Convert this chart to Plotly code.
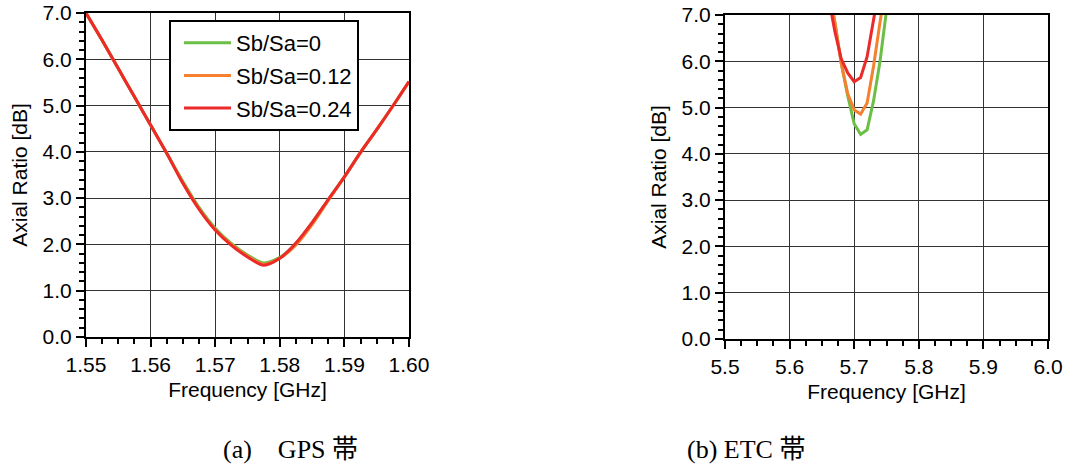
import plotly.graph_objects as go

# ---------------- data ----------------
series_names = ["Sb/Sa=0", "Sb/Sa=0.12", "Sb/Sa=0.24"]
series_colors = ["#6CBF45", "#F5812F", "#EC2A2A"]

gps_freq = [1.5500, 1.5525, 1.5550, 1.5575, 1.5600, 1.5625, 1.5650, 1.5675, 1.5700,
            1.5725, 1.5750, 1.5775, 1.5800, 1.5825, 1.5850, 1.5875, 1.5900, 1.5925,
            1.5950, 1.5975, 1.6000]
ar_gps_0 = [7.00, 6.41, 5.80, 5.19, 4.58, 3.97, 3.36, 2.80, 2.35,
            2.02, 1.77, 1.60, 1.72, 2.02, 2.47, 2.97, 3.46, 3.99,
            4.48, 4.99, 5.52]
ar_gps_012 = [7.00, 6.41, 5.80, 5.19, 4.58, 3.97, 3.33, 2.77, 2.32,
              2.00, 1.75, 1.57, 1.70, 1.99, 2.43, 2.95, 3.46, 3.99,
              4.48, 4.99, 5.52]
ar_gps_024 = [7.00, 6.41, 5.80, 5.19, 4.58, 3.97, 3.32, 2.76, 2.31,
              1.98, 1.73, 1.55, 1.70, 2.03, 2.47, 2.97, 3.46, 3.99,
              4.48, 4.99, 5.52]

etc_freq = [5.66, 5.67, 5.68, 5.69, 5.70, 5.71, 5.72, 5.73, 5.74, 5.75]
ar_etc_0 = [7.60, 6.85, 5.95, 5.25, 4.65, 4.42, 4.52, 5.15, 6.00, 7.10]
ar_etc_012 = [7.60, 6.85, 5.95, 5.30, 4.95, 4.86, 5.10, 5.90, 6.85, 7.70]
ar_etc_024 = [7.40, 6.65, 6.05, 5.75, 5.56, 5.65, 6.10, 6.85, 7.70, 8.50]

y_ticks = [0, 1, 2, 3, 4, 5, 6, 7]
gps_ticks = [1.55, 1.56, 1.57, 1.58, 1.59, 1.60]
etc_ticks = [5.5, 5.6, 5.7, 5.8, 5.9, 6.0]

x_title = "Frequency [GHz]"
y_title = "Axial Ratio [dB]"
captions = ["(a)\u00a0\u00a0\u00a0\u00a0GPS 帯", "(b) ETC 帯"]

# ---------------- figure ----------------
W, H = 1069, 465
FONT = "Liberation Sans, Arial, sans-serif"

fig = go.Figure()

gps_series = [ar_gps_0, ar_gps_012, ar_gps_024]
etc_series = [ar_etc_0, ar_etc_012, ar_etc_024]

for i, (name, col) in enumerate(zip(series_names, series_colors)):
    fig.add_trace(go.Scatter(
        x=gps_freq, y=gps_series[i], mode="lines", name=name,
        line=dict(color=col, width=3, shape="spline", smoothing=0.8),
        xaxis="x", yaxis="y", legendgroup=f"g{i}", showlegend=True))
for i, (name, col) in enumerate(zip(series_names, series_colors)):
    fig.add_trace(go.Scatter(
        x=etc_freq, y=etc_series[i], mode="lines", name=name,
        line=dict(color=col, width=3),
        xaxis="x2", yaxis="y2", legendgroup=f"g{i}", showlegend=False))


def px_x(p):
    return p / W


def px_y(p):
    return 1 - p / H


common_axis = dict(
    showline=True, linecolor="black", linewidth=2, mirror=True,
    showgrid=True, gridcolor="#333333", gridwidth=1,
    ticks="outside", ticklen=8, tickwidth=1.5, tickcolor="black",
    zeroline=False, automargin=False,
    tickfont=dict(family=FONT, size=21, color="black"),
)

xaxis_common = dict(common_axis, title=dict(text=x_title, font=dict(family=FONT, size=21, color="black"), standoff=7))
yaxis_common = dict(common_axis, title=dict(text=y_title, font=dict(family=FONT, size=21, color="black"), standoff=9))

fig.update_layout(
    width=W, height=H,
    margin=dict(l=0, r=0, t=0, b=0),
    paper_bgcolor="white", plot_bgcolor="white",
    xaxis=dict(xaxis_common, domain=[px_x(86), px_x(409)], range=[1.55, 1.60],
               tickvals=gps_ticks, tickformat=".2f", anchor="y",
               minor=dict(dtick=0.0025, ticks="outside", ticklen=5, tickcolor="black", showgrid=False)),
    yaxis=dict(yaxis_common, domain=[px_y(337), px_y(13)], range=[0, 7],
               tickvals=y_ticks, tickformat=".1f", anchor="x",
               minor=dict(dtick=0.2, ticks="outside", ticklen=5, tickcolor="black", showgrid=False)),
    xaxis2=dict(xaxis_common, domain=[px_x(725), px_x(1048)], range=[5.5, 6.0],
                tickvals=etc_ticks, tickformat=".1f", anchor="y2",
                minor=dict(dtick=0.025, ticks="outside", ticklen=5, tickcolor="black", showgrid=False)),
    yaxis2=dict(yaxis_common, domain=[px_y(339), px_y(15)], range=[0, 7],
                tickvals=y_ticks, tickformat=".1f", anchor="x2",
                minor=dict(dtick=0.2, ticks="outside", ticklen=5, tickcolor="black", showgrid=False)),
    legend=dict(
        x=px_x(169), y=px_y(20), xanchor="left", yanchor="top",
        bgcolor="white", bordercolor="black", borderwidth=2,
        font=dict(family=FONT, size=22, color="black"),
        itemwidth=47, tracegroupgap=1, indentation=8,
    ),
    showlegend=True,
)

cap_font = dict(family="Liberation Serif, Times New Roman, Noto Sans CJK JP, serif", size=26, color="black")
fig.add_annotation(text=captions[0], x=px_x(290), y=px_y(449), xref="paper", yref="paper",
                   showarrow=False, xanchor="center", yanchor="middle", font=cap_font)
fig.add_annotation(text=captions[1], x=px_x(746), y=px_y(449), xref="paper", yref="paper",
                   showarrow=False, xanchor="center", yanchor="middle", font=cap_font)

fig.write_html("out.html")
